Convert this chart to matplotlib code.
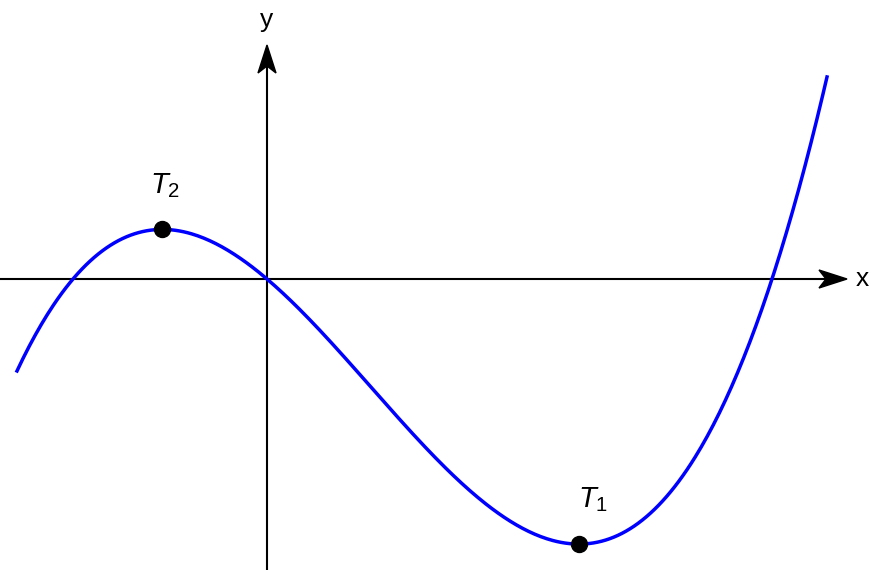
import numpy as np
import matplotlib.pyplot as plt
from matplotlib.patches import Polygon

plt.rcParams['font.family'] = ['Liberation Sans', 'DejaVu Sans']
plt.rcParams['mathtext.fontset'] = 'custom'
plt.rcParams['mathtext.rm'] = 'Liberation Sans'
plt.rcParams['mathtext.it'] = 'Liberation Sans:italic'

# cubic: roots and scale
roots = [-1.94, 0.0, 5.05]
scale = 0.087
x_start, x_end = -2.50, 5.60

# turning points (labels)
point_names = ['$T_2$', '$T_1$']


def f(x):
    return scale * (x - roots[0]) * (x - roots[1]) * (x - roots[2])


# turning points from f'(x) = 0
c = np.poly(roots) * scale
turn_x = np.sort(np.roots(np.polyder(c)))  # [max, min]

fig = plt.figure(figsize=(8.72, 5.70), dpi=100)
ax = fig.add_axes([0, 0, 1, 1])
ax.set_xlim(-2.67, 6.05)
ax.set_ylim(-2.91, 2.79)
ax.axis('off')

# axes with arrow heads
x_tip, y_tip = 5.80, 2.34
ax.plot([-2.67, x_tip - 0.1], [0, 0], color='black', lw=1.5, zorder=1)
ax.plot([0, 0], [-2.91, y_tip - 0.1], color='black', lw=1.5, zorder=1)
hl, hw, notch = 0.28, 0.09, 0.07
ax.add_patch(Polygon([[x_tip, 0], [x_tip - hl, hw], [x_tip - hl + notch, 0], [x_tip - hl, -hw]],
                     closed=True, color='black', zorder=2))
ax.add_patch(Polygon([[0, y_tip], [hw, y_tip - hl], [0, y_tip - hl + notch], [-hw, y_tip - hl]],
                     closed=True, color='black', zorder=2))
ax.text(x_tip + 0.15, 0, 'x', fontsize=19, ha='center', va='center')
ax.text(0, y_tip + 0.25, 'y', fontsize=19, ha='center', va='center')

# curve
xs = np.linspace(x_start, x_end, 400)
ax.plot(xs, f(xs), color='#0000ff', lw=2.5, zorder=3)

# turning points
ax.plot(turn_x, f(turn_x), 'o', color='black', markersize=11.5, zorder=4)
ax.text(turn_x[0] + 0.03, f(turn_x[0]) + 0.44, point_names[0], fontsize=21, ha='center', va='center')
ax.text(turn_x[1] + 0.14, f(turn_x[1]) + 0.44, point_names[1], fontsize=21, ha='center', va='center')

fig.savefig('out.png', dpi=100)
